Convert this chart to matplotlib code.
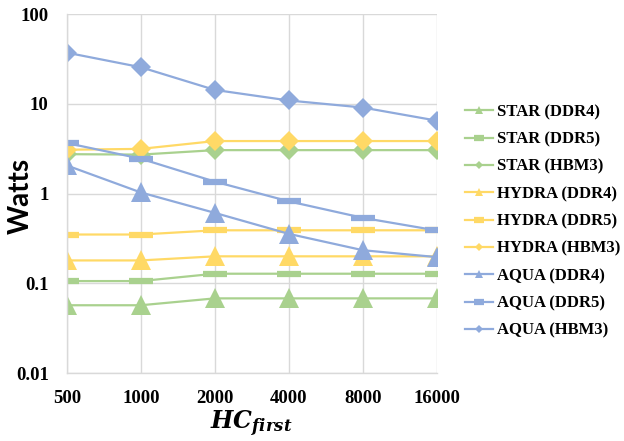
import matplotlib
matplotlib.use("Agg")
import matplotlib.pyplot as plt
import numpy as np

plt.rcParams['mathtext.fontset'] = 'custom'
plt.rcParams['mathtext.it'] = 'DejaVu Serif:italic:bold'
plt.rcParams['mathtext.rm'] = 'DejaVu Serif:bold'

categories = ['500', '1000', '2000', '4000', '8000', '16000']

star_ddr4 = [0.057, 0.057, 0.068, 0.068, 0.068, 0.068]
star_ddr5 = [0.106, 0.106, 0.128, 0.128, 0.128, 0.128]
star_hbm3 = [2.75, 2.72, 3.05, 3.05, 3.05, 3.05]
hydra_ddr4 = [0.18, 0.18, 0.20, 0.20, 0.20, 0.20]
hydra_ddr5 = [0.35, 0.35, 0.39, 0.39, 0.39, 0.39]
hydra_hbm3 = [3.08, 3.15, 3.85, 3.85, 3.85, 3.85]
aqua_ddr4 = [2.06, 1.03, 0.61, 0.356, 0.234, 0.196]
aqua_ddr5 = [3.66, 2.45, 1.36, 0.82, 0.537, 0.388]
aqua_hbm3 = [37.2, 25.6, 14.3, 10.9, 9.1, 6.5]

series = [
    ('STAR (DDR4)', star_ddr4),
    ('STAR (DDR5)', star_ddr5),
    ('STAR (HBM3)', star_hbm3),
    ('HYDRA (DDR4)', hydra_ddr4),
    ('HYDRA (DDR5)', hydra_ddr5),
    ('HYDRA (HBM3)', hydra_hbm3),
    ('AQUA (DDR4)', aqua_ddr4),
    ('AQUA (DDR5)', aqua_ddr5),
    ('AQUA (HBM3)', aqua_hbm3),
]
colors = {'STAR': '#A9D18E', 'HYDRA': '#FFD966', 'AQUA': '#8FAADC'}

fig = plt.figure(figsize=(6.24, 4.41), dpi=100)
ax = fig.add_axes([0.107, 0.154, 0.593, 0.814])

x = np.arange(len(categories))
for name, vals in series:
    c = colors[name.split()[0]]
    if 'DDR4' in name:
        kw = dict(marker='^', markersize=14, markeredgewidth=0)
    elif 'DDR5' in name:
        kw = dict(marker='_', markersize=17, markeredgewidth=4.5)
    else:
        kw = dict(marker='D', markersize=10, markeredgewidth=0)
    ax.plot(x, vals, color=c, linewidth=1.6, label=name, **kw)

ax.set_yscale('log')
ax.set_ylim(0.01, 100)
ax.set_xlim(0, len(categories) - 1)
ax.set_xticks(x)
ax.set_xticklabels(categories)
ax.set_yticks([0.01, 0.1, 1, 10, 100])
ax.set_yticklabels(['0.01', '0.1', '1', '10', '100'])
ax.yaxis.set_minor_locator(matplotlib.ticker.NullLocator())
ax.grid(True, which='major', color='#D9D9D9', linewidth=1.0)
ax.set_axisbelow(True)
for s in ['top', 'right']:
    ax.spines[s].set_visible(False)
for s in ['left', 'bottom']:
    ax.spines[s].set_color('#D9D9D9')
    ax.spines[s].set_linewidth(1.0)
ax.tick_params(axis='x', length=0, pad=12)
ax.tick_params(axis='y', length=0, pad=13)
for lab in ax.get_xticklabels() + ax.get_yticklabels():
    lab.set_fontfamily('Liberation Serif')
    lab.set_fontweight('bold')
    lab.set_fontsize(13.5)

fig.text(0.034, 0.556, 'Watts', rotation=90, ha='center', va='center',
         fontsize=20, fontweight='bold', family='Lato')
ax.set_xlabel(r'$HC_{first}$', fontsize=17, labelpad=1)

handles, labels = ax.get_legend_handles_labels()
leg = fig.legend(handles, labels, loc='center left', bbox_to_anchor=(0.745, 0.498),
                 frameon=False, prop={'family': 'Liberation Serif', 'weight': 'bold', 'size': 12},
                 handlelength=1.7, handletextpad=0.2, labelspacing=0.68, markerscale=0.45,
                 borderpad=0, borderaxespad=0)

fig.savefig('out.png', dpi=100)
